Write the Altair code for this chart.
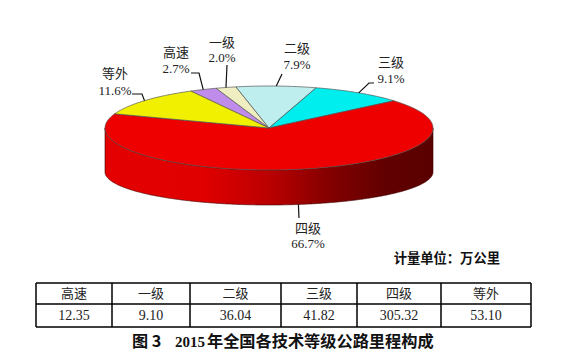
import math
import altair as alt
import pandas as pd

# ---------------- data ----------------
categories = ["高速", "一级", "二级", "三级", "四级", "等外"]
values = [12.35, 9.10, 36.04, 41.82, 305.32, 53.10]
value_labels = ["12.35", "9.10", "36.04", "41.82", "305.32", "53.10"]
colors = ["#c08cec", "#eeeec0", "#beeeee", "#00eeee", "#ee0000", "#f0f000"]
unit_text = "计量单位：万公里"
caption_parts = ["图 3", "2015", "年全国各技术等级公路里程构成"]

# ---------------- layout (page pixels) ----------------
W, H = 549, 343
CX, CY, RX, RY = 269, 128, 164, 42        # top ellipse of the 3-D pie
BOT_CY, BOT_RY = 172, 33                  # bottom ellipse (side wall)
START = -28.5                             # start angle of first slice (deg, clockwise from top)

label_pos = {  # x centre, y of name, y of percent
    "高速": (176, 53, 69),
    "一级": (222, 43, 58),
    "二级": (297, 49, 65),
    "三级": (391, 63, 79),
    "四级": (308, 229, 244),
    "等外": (115, 74, 91),
}
leader_from = {
    "高速": [(191, 73), (199, 73)],
    "一级": [(227, 65)],
    "二级": [(282, 74)],
    "三级": [(374, 83), (369, 83)],
    "四级": [(299, 218)],
    "等外": [(132, 94), (142, 94)],
}
col_edges = [36, 112, 190, 281, 357, 441, 531]
row_edges = [283, 304, 327]

# ---------------- build geometry from the values ----------------
total = sum(values)
pie_rows, side_rows, leader_rows, lab_rows = [], [], [], []
a0 = START
for cat, v in zip(categories, values):
    span = v / total * 360
    a1 = a0 + span
    n = max(2, int(span * 2))
    pts = [(CX, CY)]
    for k in range(n + 1):
        t = math.radians(a0 + span * k / n)
        pts.append((CX + RX * math.sin(t), CY - RY * math.cos(t)))
    pts.append((CX, CY))
    for j, (x, y) in enumerate(pts):
        pie_rows.append(dict(cat=cat, x=x, y=y, o=j))
    # visible side wall (front half of the pie) as a closed polygon
    lo, hi = max(a0, 90), min(a1, 270)
    if hi > lo:
        m = max(2, int((hi - lo) * 2))
        ts = [math.radians(lo + (hi - lo) * k / m) for k in range(m + 1)]
        poly = [(CX + RX * math.sin(t), CY - RY * math.cos(t)) for t in ts]
        poly += [(CX + RX * math.sin(t), BOT_CY - BOT_RY * math.cos(t)) for t in reversed(ts)]
        poly.append(poly[0])
        for j, (x, y) in enumerate(poly):
            side_rows.append(dict(cat=cat, x=x, y=y, o=j))
    mid = math.radians(a0 + span / 2)
    if 90 <= math.degrees(mid) <= 270:
        anchor = (CX + RX * math.sin(mid), BOT_CY - BOT_RY * math.cos(mid))
    else:
        anchor = (CX + RX * math.sin(mid), CY - RY * math.cos(mid))
    for j, (x, y) in enumerate(leader_from[cat] + [anchor]):
        leader_rows.append(dict(cat=cat, x=x, y=y, o=j))
    lx, ly1, ly2 = label_pos[cat]
    lab_rows.append(dict(cat=cat, x=lx, y1=ly1, y2=ly2,
                         pct=f"{v / total * 100:.1f}%"))
    a0 = a1

pie_df = pd.DataFrame(pie_rows)
side_df = pd.DataFrame(side_rows)
leader_df = pd.DataFrame(leader_rows)
lab_df = pd.DataFrame(lab_rows)

hl = pd.DataFrame([dict(x=col_edges[0], x2=col_edges[-1], y=r, y2=r) for r in row_edges])
vl = pd.DataFrame([dict(x=c, x2=c, y=row_edges[0], y2=row_edges[-1]) for c in col_edges])
cells = pd.DataFrame([dict(cat=c, val=vlab,
                           x=(col_edges[i] + col_edges[i + 1]) / 2,
                           yh=(row_edges[0] + row_edges[1]) / 2,
                           yv=(row_edges[1] + row_edges[2]) / 2)
                      for i, (c, vlab) in enumerate(zip(categories, value_labels))])

xs = alt.Scale(domain=[8, 8 + W], nice=False, zero=False)
ys = alt.Scale(domain=[8, 8 + H], nice=False, zero=False, reverse=True)
X = lambda f="x": alt.X(f"{f}:Q", scale=xs, axis=None)
Y = lambda f="y": alt.Y(f"{f}:Q", scale=ys, axis=None)

SERIF = "Liberation Serif, Noto Sans CJK SC"
SANS = "Noto Sans CJK SC"

grad = alt.Gradient(
    gradient="linear",
    stops=[alt.GradientStop(color="#e40000", offset=0),
           alt.GradientStop(color="#e00000", offset=0.3),
           alt.GradientStop(color="#bb0000", offset=0.5),
           alt.GradientStop(color="#840000", offset=0.68),
           alt.GradientStop(color="#620000", offset=0.85),
           alt.GradientStop(color="#5a0000", offset=1)],
    x1=0, x2=1, y1=0, y2=0)

side = alt.Chart(side_df).mark_line(filled=True, fill=grad, stroke="#3a0000",
                                    strokeWidth=0.6, strokeJoin="round").encode(
    x=X(), y=Y(), order="o:Q", detail="cat:N")

top = alt.Chart(pie_df).mark_line(filled=True, stroke="#555555", strokeWidth=0.7,
                                  strokeJoin="round").encode(
    x=X(), y=Y(), order="o:Q", detail="cat:N",
    color=alt.Color("cat:N", scale=alt.Scale(domain=categories, range=colors), legend=None))

leaders = alt.Chart(leader_df).mark_line(color="#111111", strokeWidth=1.2).encode(
    x=X(), y=Y(), order="o:Q", detail="cat:N")

names = alt.Chart(lab_df).mark_text(font=SERIF, fontSize=13, color="#222222",
                                    baseline="middle").encode(
    x=X(), y=Y("y1"), text="cat:N")
pcts = alt.Chart(lab_df).mark_text(font=SERIF, fontSize=13, color="#222222",
                                   baseline="middle").encode(
    x=X(), y=Y("y2"), text="pct:N")

unit = alt.Chart(pd.DataFrame([dict(x=500, y=259, t=unit_text)])).mark_text(
    font=SANS, fontSize=13.3, fontWeight="bold", align="right", baseline="middle",
    color="#111111").encode(x=X(), y=Y(), text="t:N")

hrules = alt.Chart(hl).mark_rule(color="#000000", strokeWidth=1.5).encode(
    x=X(), x2="x2:Q", y=Y(), y2="y2:Q")
vrules = alt.Chart(vl).mark_rule(color="#000000", strokeWidth=1.5).encode(
    x=X(), x2="x2:Q", y=Y(), y2="y2:Q")
head = alt.Chart(cells).mark_text(font=SERIF, fontSize=13, color="#222222",
                                  baseline="middle").encode(
    x=X(), y=Y("yh"), text="cat:N")
vals = alt.Chart(cells).mark_text(font="Liberation Serif", fontSize=14, color="#222222",
                                  baseline="middle").encode(
    x=X(), y=Y("yv"), text="val:N")

cap_df = pd.DataFrame([
    dict(x=132, y=347, t=caption_parts[0]),
    dict(x=175, y=347, t=caption_parts[1]),
    dict(x=207, y=347, t=caption_parts[2]),
])
cap_cn = alt.Chart(cap_df.iloc[[0, 2]]).mark_text(
    font=SANS, fontSize=16.2, fontWeight="bold", align="left", baseline="alphabetic",
    color="#111111").encode(x=X(), y=Y(), text="t:N")
cap_num = alt.Chart(cap_df.iloc[[1]]).mark_text(
    font="Liberation Serif", fontSize=15, fontWeight="bold", align="left",
    baseline="alphabetic", color="#111111").encode(x=X(), y=Y(), text="t:N")

chart = alt.layer(side, top, leaders, names, pcts, unit, hrules, vrules, head, vals,
                  cap_cn, cap_num).properties(
    width=W, height=H, autosize=alt.AutoSizeParams(type="none"), padding=0
).configure_view(stroke=None)

chart.save("out.html", embed_options={"renderer": "svg", "actions": False})
